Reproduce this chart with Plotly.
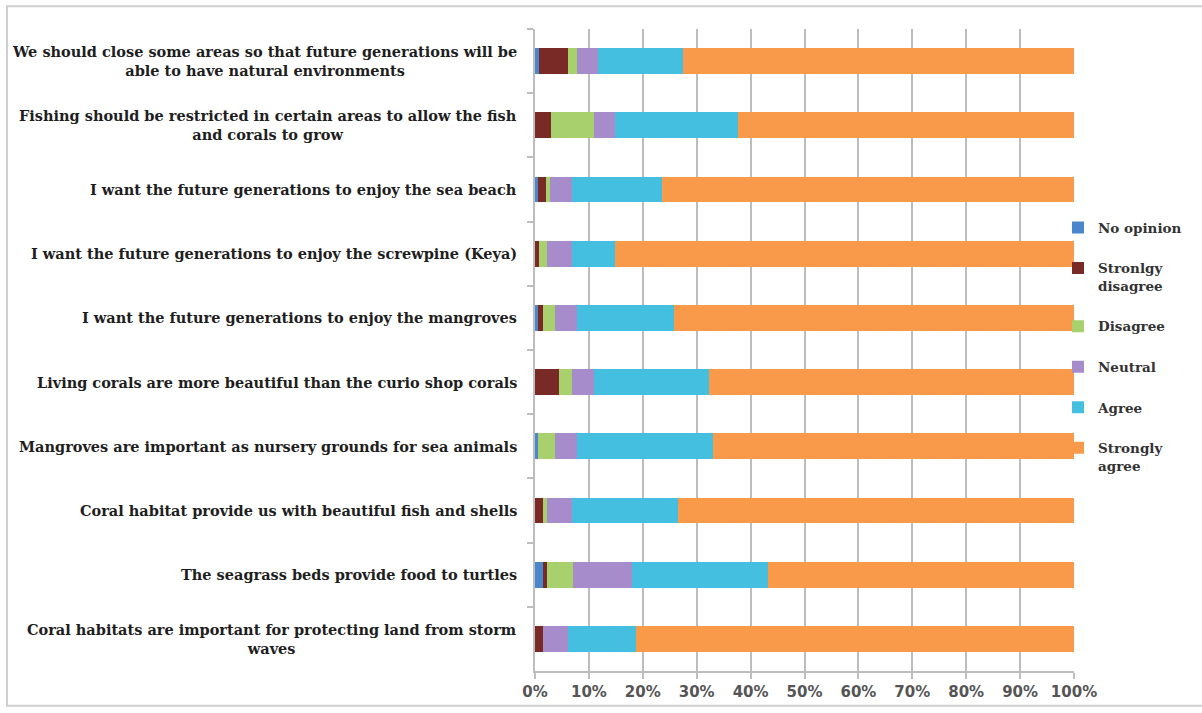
import plotly.graph_objects as go

# Survey statements, listed from top to bottom of the chart
statements = [
    "We should close some areas so that future generations will be<br>able to have natural environments",
    "Fishing should be restricted in certain areas to allow the fish<br>and corals to grow",
    "I want the future generations to enjoy the sea beach",
    "I want the future generations to enjoy the screwpine (Keya)",
    "I want the future generations to enjoy the mangroves",
    "Living corals are more beautiful than the curio shop corals",
    "Mangroves are important as nursery grounds for sea animals",
    "Coral habitat provide us with beautiful fish and shells",
    "The seagrass beds provide food to turtles",
    "Coral habitats are important for protecting land from storm<br>waves",
]

# Share of respondents (%) per answer, same order as the statements
no_opinion        = [0.7, 0.0, 0.5, 0.0, 0.5, 0.0, 0.6, 0.0, 1.4, 0.0]
strongly_disagree = [5.5, 3.0, 1.6, 0.7, 0.9, 4.5, 0.0, 1.4, 0.8, 1.4]
disagree          = [1.6, 7.9, 0.7, 1.5, 2.3, 2.4, 3.1, 0.8, 4.8, 0.0]
neutral           = [3.9, 4.0, 4.1, 4.7, 4.0, 4.0, 4.1, 4.7, 11.0, 4.8]
agree             = [15.7, 22.7, 16.7, 8.0, 18.0, 21.3, 25.2, 19.7, 25.2, 12.6]
strongly_agree    = [72.6, 62.4, 76.4, 85.1, 74.3, 67.8, 67.0, 73.4, 56.8, 81.2]

series_names = ["No opinion", "Stronlgy<br>disagree", "Disagree", "Neutral",
                "Agree", "Strongly<br>agree"]
series_values = [no_opinion, strongly_disagree, disagree, neutral, agree,
                 strongly_agree]
series_colors = ["#4A86CC", "#7A2A26", "#A8D06C", "#A68CCB", "#45BFE0", "#F99A4A"]

x_ticks = [0, 10, 20, 30, 40, 50, 60, 70, 80, 90, 100]
x_tick_labels = [f"{t}%" for t in x_ticks]

W, H = 1202, 713
M_L, M_R, M_T, M_B = 535, 128, 29, 36
PW, PH = W - M_L - M_R, H - M_T - M_B

serif = "DejaVu Serif"
sans = "DejaVu Sans"

fig = go.Figure()
for i, (name, vals, col) in enumerate(zip(series_names, series_values, series_colors)):
    fig.add_trace(go.Bar(
        y=statements, x=vals, name=name, orientation="h",
        marker=dict(color=col, line=dict(width=0)),
        legendgroup=f"g{i}", legendrank=i + 1,
        hoverinfo="x+name",
    ))

# Category labels: right-aligned block, each line centred within it
for s in statements:
    fig.add_annotation(
        x=0, xref="paper", y=s, yref="y", xanchor="right", yanchor="middle",
        xshift=-16, text=s, showarrow=False, align="center",
        font=dict(family=serif, size=14.5, color="#1e1e1e", weight="bold"),
    )

# Light frame around the whole chart
fig.add_shape(
    type="rect", xref="paper", yref="paper",
    x0=(7 - M_L) / PW, x1=(W + 5 - M_L) / PW,
    y0=(H - M_B - 712) / PH, y1=(H - M_B - 6) / PH,
    line=dict(color="#cfcfcf", width=2), fillcolor="rgba(0,0,0,0)", layer="below",
)

fig.update_layout(
    width=W, height=H,
    margin=dict(l=M_L, r=M_R, t=M_T, b=M_B),
    barmode="stack", bargap=0.6,
    paper_bgcolor="white", plot_bgcolor="white",
    showlegend=True,
    legend=dict(
        x=(1058 - M_L) / PW, xanchor="left", y=(H - M_B - 214) / PH, yanchor="top",
        traceorder="grouped", tracegroupgap=20, valign="top",
        font=dict(family=serif, size=13.5, color="#333333", weight="bold"),
        bgcolor="rgba(0,0,0,0)",
    ),
    xaxis=dict(
        range=[0, 100], tickvals=x_ticks, ticktext=x_tick_labels,
        showgrid=True, gridcolor="#bdbdbd", gridwidth=2,
        showline=True, linecolor="#bdbdbd", linewidth=2,
        ticks="outside", ticklen=6, tickcolor="#bdbdbd", tickwidth=2,
        tickfont=dict(family=sans, size=15, color="#555555", weight="bold"),
        zeroline=False, fixedrange=True,
    ),
    yaxis=dict(
        type="category", autorange="reversed",
        showticklabels=False, tickson="boundaries",
        ticks="outside", ticklen=6, tickcolor="#bdbdbd", tickwidth=2,
        showline=True, linecolor="#bdbdbd", linewidth=2,
        showgrid=False, fixedrange=True,
    ),
)

fig.write_html("out.html")
